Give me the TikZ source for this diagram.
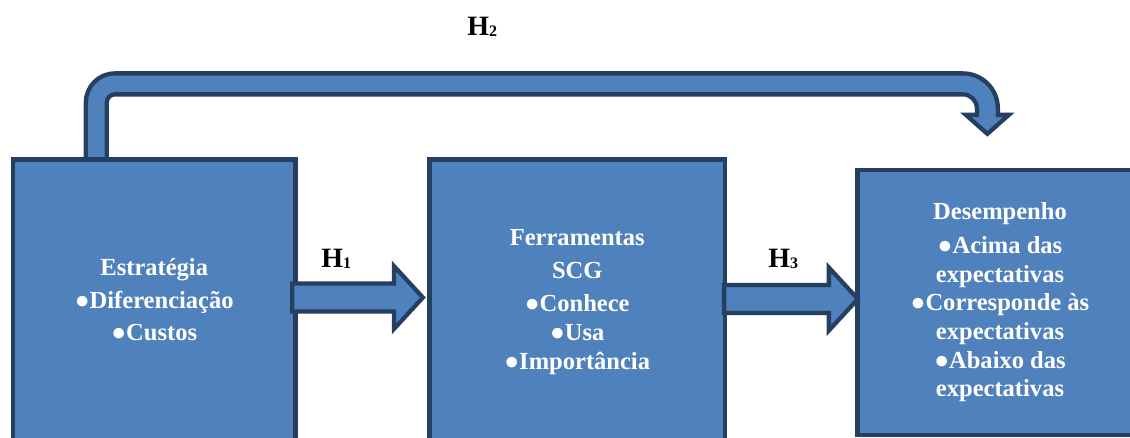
\documentclass[tikz,border=0pt]{standalone}
\usepackage{fontspec}
\setmainfont{Liberation Serif}
\usetikzlibrary{calc, backgrounds}

\definecolor{boxfill}{HTML}{4F81BD}
\definecolor{boxline}{HTML}{243F60}

\tikzset{
  box/.style={draw=boxline, fill=boxfill, line width=3.2pt, text=white, align=center, inner sep=0pt},
  blockarrow/.style={draw=boxline, fill=boxfill, line width=3.2pt, line join=miter},
  hlabel/.style={anchor=base west, inner sep=0pt, font=\fontsize{21}{21}\selectfont\bfseries}
}
\newcommand\hsub[1]{H\raisebox{-0.75pt}{\fontsize{12}{12}\selectfont #1}}
\newcommand\fatarrow[2]{%
  \draw[blockarrow] ($(#1)+(0,-14)$) -- ($(#2)+(-29,-14)$) -- ($(#2)+(-29,-31.5)$) -- (#2)
    -- ($(#2)+(-29,31.5)$) -- ($(#2)+(-29,14)$) -- ($(#1)+(0,14)$) -- cycle;}

\begin{document}
\begin{tikzpicture}[x=0.75pt, y=-0.75pt]
  %tikz  Estrategia, SCG, desempenho
    \useasboundingbox (0,0) rectangle (1130,437);
    \clip (0,0) rectangle (1130,437);

    \node[box, minimum width=211.9pt, minimum height=210.75pt, font=\fontsize{18.4}{24.4}\selectfont\bfseries]
      (estr) at (154.25,300) {Estratégia\\●Diferenciação\\●Custos};
    \node[box, minimum width=221.6pt, minimum height=213.75pt, font=\fontsize{18.4}{21.75}\selectfont\bfseries]
      (ferr) at (577.25,302) {Ferramentas\\[3pt]SCG\\[3pt]●Conhece\\●Usa\\●Importância};
    \node[box, minimum width=213.75pt, minimum height=198.75pt, font=\fontsize{18.4}{21.5}\selectfont\bfseries]
      (desm) at (1000,302.5) {Desempenho\\[3.75pt]●Acima das\\expectativas\\●Corresponde às\\expectativas\\●Abaixo das\\expectativas};

    \coordinate (h1a) at ($(estr.east)+(-5.5,-2.5)$);
    \coordinate (h1b) at ($(ferr.west)+(-4.5,-4.5)$);
    \coordinate (h3a) at ($(ferr.east)+(-3,-3)$);
    \coordinate (h3b) at ($(desm.west)+(2.5,-3.5)$);
    \coordinate (h2s) at ($(estr.north west)+(85.5,0)$);
    \coordinate (h2e) at ($(desm.north west)+(132,-34)$);

    \fatarrow{h1a}{h1b}
    \fatarrow{h3a}{h3b}

    \begin{scope}[on background layer]
    \draw[blockarrow] ($(h2s)+(-10.5,5)$)
      [rounded corners=21.75pt] -- ($(h2s |- h2e)+(-10.5,-60.5)$)
      [rounded corners=26.25pt] -- ($(h2e)+(10.5,-60.5)$)
      [sharp corners] -- ($(h2e)+(10.5,-19)$) -- ($(h2e)+(21.5,-19)$) -- (h2e)
      -- ($(h2e)+(-21.5,-19)$) -- ($(h2e)+(-10.5,-19)$)
      [rounded corners=10.5pt] -- ($(h2e)+(-10.5,-39.5)$)
      [rounded corners=6pt] -- ($(h2s |- h2e)+(10.5,-39.5)$)
      [sharp corners] -- ($(h2s)+(10.5,5)$) -- cycle;
    \end{scope}

    \node[hlabel] (h1) at (321,267) {\hsub{1}};
    \node[hlabel] (h2) at (467,35) {\hsub{2}};
    \node[hlabel] (h3) at (768,267) {\hsub{3}};
  \end{tikzpicture}
\end{document}
